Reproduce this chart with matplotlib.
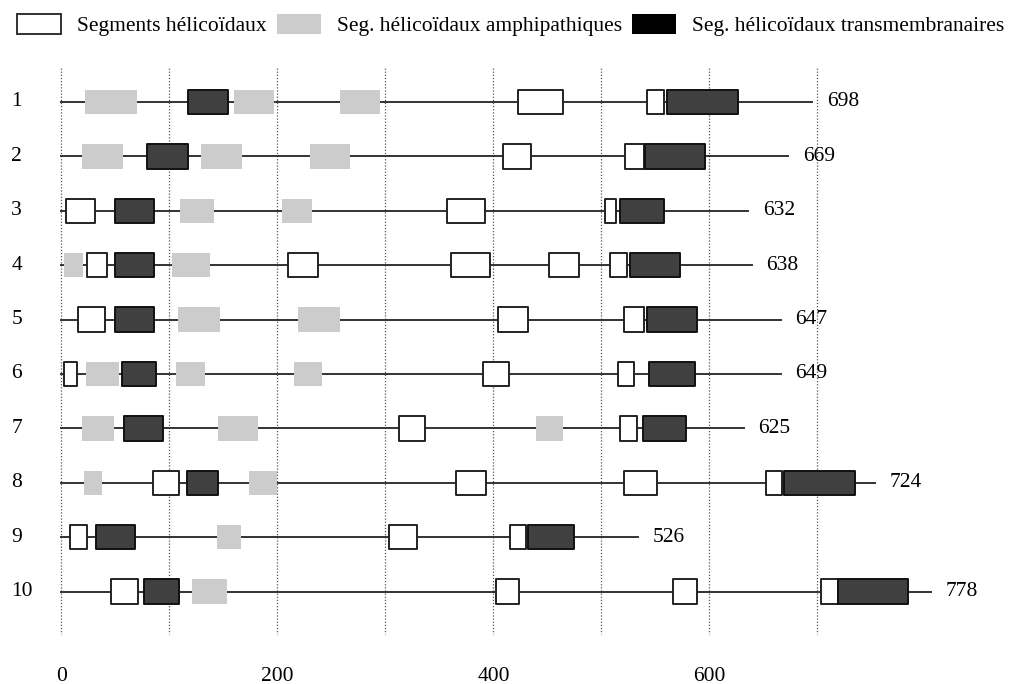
import matplotlib.pyplot as plt
from matplotlib.patches import Patch

plt.rcParams['font.family'] = ['Liberation Serif', 'DejaVu Serif']

# protein lengths (labels at end of each line)
lengths = [698, 669, 632, 638, 647, 649, 625, 724, 526, 778]
# where each drawn line ends (read off the figure, not exactly to scale)
line_end = [695, 673, 636, 639, 666, 666, 632, 753, 534, 805]

# helical segments (start, end)
helix = [
    [(423, 464), (542, 558)],
    [(409, 435), (522, 539)],
    [(4, 31), (357, 392), (503, 513)],
    [(24, 42), (210, 238), (361, 397), (451, 479), (508, 524)],
    [(15, 40), (404, 432), (521, 539)],
    [(2, 14), (390, 414), (515, 530)],
    [(313, 337), (517, 533)],
    [(85, 109), (365, 393), (521, 551), (652, 667)],
    [(8, 24), (303, 329), (415, 430)],
    [(46, 71), (402, 424), (566, 588), (703, 719)],
]
# amphipathic helical segments
amphi = [
    [(22, 70), (160, 197), (258, 295)],
    [(19, 57), (129, 167), (230, 267)],
    [(110, 141), (204, 232)],
    [(2, 20), (102, 138)],
    [(108, 147), (219, 258)],
    [(23, 53), (106, 133), (215, 241)],
    [(19, 49), (145, 182), (439, 464)],
    [(21, 38), (174, 200)],
    [(144, 166)],
    [(121, 153)],
]
# transmembrane helical segments
tm = [
    [(117, 154), (561, 626)],
    [(79, 117), (540, 596)],
    [(50, 86), (517, 558)],
    [(50, 86), (526, 573)],
    [(50, 86), (542, 588)],
    [(56, 88), (544, 587)],
    [(58, 94), (538, 578)],
    [(116, 145), (669, 735)],
    [(32, 68), (432, 475)],
    [(76, 109), (719, 784)],
]

grid_x = [0, 100, 200, 300, 400, 500, 600, 700]
tick_x = [0, 200, 400, 600]

fig = plt.figure(figsize=(10.15, 6.84), dpi=100)
ax = fig.add_axes([0, 0, 1, 1])
ax.set_xlim(-56.9, 882.9)
ax.set_ylim(11.70, -0.875)
ax.axis('off')

for gx in grid_x:
    ax.plot([gx, gx], [0.375, 10.78], color='#555555', lw=0.9, ls=(0, (1, 1.5)), zorder=1)

h = 0.45
for i in range(len(lengths)):
    y = i + 1
    ax.plot([0, line_end[i]], [y, y], color='#333333', lw=1.4, zorder=2)
    ax.broken_barh([(a, b - a) for a, b in amphi[i]], (y - h / 2, h),
                   facecolor='#cccccc', edgecolor='none', zorder=3)
    ax.broken_barh([(a, b - a) for a, b in helix[i]], (y - h / 2, h),
                   facecolor='white', edgecolor='#222222', lw=1.4, zorder=4)
    ax.broken_barh([(a, b - a) for a, b in tm[i]], (y - h / 2, h),
                   facecolor='#404040', edgecolor='#111111', lw=1.4, zorder=5)
    ax.text(-46.5, y, str(i + 1), fontsize=15.5, ha='left', va='center')
    ax.annotate(str(lengths[i]), (line_end[i], y), xytext=(10.5, 0),
                textcoords='offset points', fontsize=15.5, ha='left', va='center')

for t in tick_x:
    ax.text(t, 11.56, str(t), fontsize=15.5, ha='center', va='center')

handles = [
    Patch(facecolor='white', edgecolor='#222222', lw=1.3, label='Segments hélicoïdaux'),
    Patch(facecolor='#cccccc', edgecolor='none', label='Seg. hélicoïdaux amphipathiques'),
    Patch(facecolor='black', edgecolor='none', label='Seg. hélicoïdaux transmembranaires'),
]
fig.legend(handles=handles, ncol=3, loc='upper left', bbox_to_anchor=(17 / 1015, 1 - 14 / 684),
           frameon=False, borderpad=0, borderaxespad=0, handlelength=2.05, handleheight=1.05,
           handletextpad=0.75, columnspacing=0.45, fontsize=15.5)

fig.savefig('out.png', dpi=100)
